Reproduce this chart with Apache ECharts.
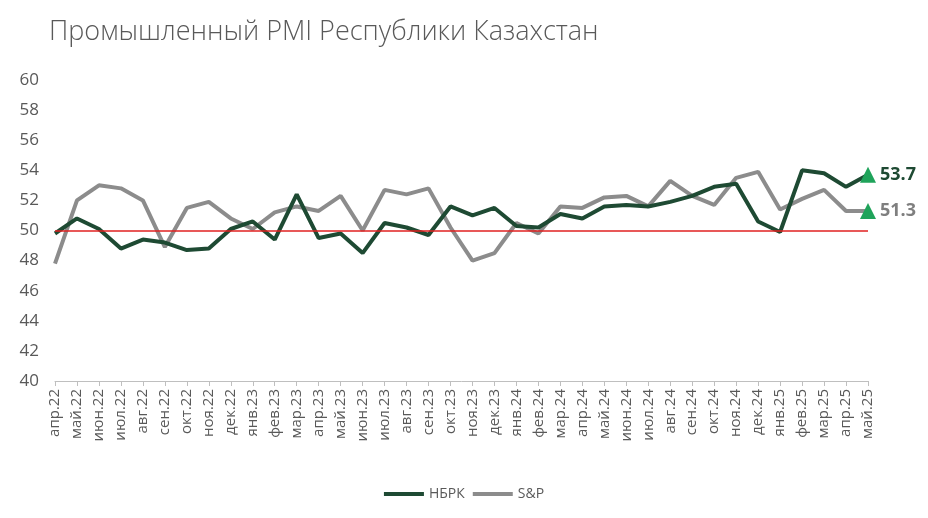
<!DOCTYPE html>
<html><head><meta charset="utf-8">
<script src="https://cdn.jsdelivr.net/npm/echarts@6/dist/echarts.min.js"></script>
<style>html,body{margin:0;background:#fff}#chart{width:928px;height:518px}</style>
</head><body><div id="chart"></div>
<script>
var months = ['апр.22','май.22','июн.22','июл.22','авг.22','сен.22','окт.22','ноя.22','дек.22',
  'янв.23','фев.23','мар.23','апр.23','май.23','июн.23','июл.23','авг.23','сен.23','окт.23','ноя.23','дек.23',
  'янв.24','фев.24','мар.24','апр.24','май.24','июн.24','июл.24','авг.24','сен.24','окт.24','ноя.24','дек.24',
  'янв.25','фев.25','мар.25','апр.25','май.25'];
var nbrk = [49.8,50.8,50.1,48.8,49.4,49.2,48.7,48.8,50.1,50.6,49.4,52.4,49.5,49.8,48.5,50.5,50.2,49.7,51.6,51.0,
  51.5,50.3,50.2,51.1,50.8,51.6,51.7,51.6,51.9,52.3,52.9,53.1,50.6,49.9,54.0,53.8,52.9,53.7];
var sp = [47.8,52.0,53.0,52.8,52.0,48.9,51.5,51.9,50.8,50.1,51.2,51.6,51.3,52.3,50.0,52.7,52.4,52.8,50.2,48.0,
  48.5,50.5,49.8,51.6,51.5,52.2,52.3,51.6,53.3,52.3,51.7,53.5,53.9,51.4,52.1,52.7,51.3,51.3];
var threshold = 50;

var chart = echarts.init(document.getElementById('chart'));

function lastMark(data, color) {
  var i = data.length - 1;
  return {
    symbol: 'triangle', symbolSize: 16,
    itemStyle: {color: '#1fa35a'},
    label: {show: true, position: 'right', distance: 4, formatter: '{c}',
      color: color, fontWeight: 'bold', fontSize: 18, fontFamily: 'Open Sans'},
    data: [{coord: [i, data[i]], value: data[i].toFixed(1)}]
  };
}

chart.setOption({
  title: {text: 'Промышленный PMI Республики Казахстан', left: 44, top: 14,
    textStyle: {fontSize: 27, fontWeight: 300, color: '#595959', fontFamily: 'Open Sans'}},
  legend: {bottom: 12, left: 'center', itemWidth: 40, itemHeight: 4, icon: 'rect',
    textStyle: {fontSize: 14, color: '#595959', fontFamily: 'Open Sans'}},
  grid: {left: 55, right: 60, top: 80, bottom: 137},
  xAxis: {
    type: 'category', data: months, boundaryGap: false,
    axisLine: {lineStyle: {color: '#bfbfbf'}},
    axisTick: {show: true, alignWithLabel: true, lineStyle: {color: '#bfbfbf'}},
    axisLabel: {rotate: 90, interval: 0, fontSize: 15, color: '#595959', fontFamily: 'Open Sans'}
  },
  yAxis: {
    type: 'value', min: 40, max: 60, interval: 2,
    axisLine: {show: false}, axisTick: {show: false}, splitLine: {show: false},
    axisLabel: {fontSize: 17, color: '#595959', margin: 16, fontFamily: 'Open Sans'}
  },
  series: [
    {name: 'НБРК', type: 'line', data: nbrk, symbol: 'none', z: 3,
      lineStyle: {color: '#1e4a33', width: 4}, itemStyle: {color: '#1e4a33'},
      markLine: {silent: true, symbol: 'none', label: {show: false},
        lineStyle: {color: '#e02020', width: 1.5, type: 'solid'}, data: [{yAxis: threshold}]},
      markPoint: lastMark(nbrk, '#1e4a33')},
    {name: 'S&P', type: 'line', data: sp, symbol: 'none', z: 2,
      lineStyle: {color: '#8c8c8c', width: 4}, itemStyle: {color: '#8c8c8c'},
      markPoint: lastMark(sp, '#7f7f7f')}
  ]
});
</script>
</body></html>
